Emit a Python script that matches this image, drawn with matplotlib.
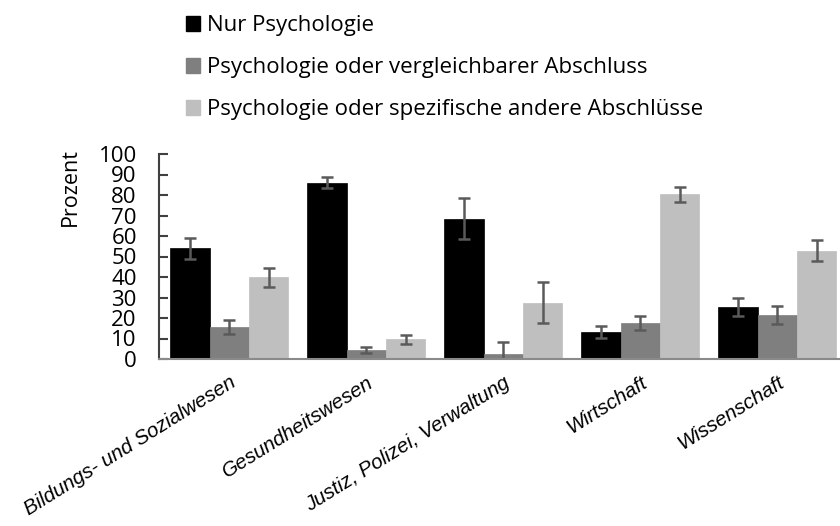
import numpy as np
import matplotlib
matplotlib.use("Agg")
import matplotlib.pyplot as plt
from matplotlib.patches import Patch

# -----------------------------
# Data
# -----------------------------
categories = ["Bildungs- und Sozialwesen", "Gesundheitswesen",
              "Justiz, Polizei, Verwaltung", "Wirtschaft", "Wissenschaft"]
series_names = ["Nur Psychologie",
                "Psychologie oder vergleichbarer Abschluss",
                "Psychologie oder spezifische andere Abschlüsse"]

nur_psych = [54.0, 86.0, 68.4, 13.3, 25.4]
nur_psych_err = [5.0, 2.7, 10.0, 3.0, 4.6]

vergleichbar = [15.7, 4.4, 2.4, 17.6, 21.4]
vergleichbar_err = [3.5, 1.6, 5.7, 3.6, 4.3]

spezifisch = [39.8, 9.6, 27.4, 80.4, 52.9]
spezifisch_err = [4.8, 2.3, 10.0, 3.7, 5.0]

yticks = list(range(0, 101, 10))

# -----------------------------
# Figure
# -----------------------------
W, H = 840, 526
fig = plt.figure(figsize=(W / 100, H / 100), dpi=100)
ax = fig.add_axes([159 / W, 1 - 359 / H, (W - 159) / W, (359 - 154) / H])

colors = ["#000000", "#7f7f7f", "#bfbfbf"]
values = [nur_psych, vergleichbar, spezifisch]
errors = [nur_psych_err, vergleichbar_err, spezifisch_err]

x = np.arange(len(categories))
width = 0.288
for i, (vals, errs, col) in enumerate(zip(values, errors, colors)):
    ax.bar(x + (i - 1) * width, vals, width, color=col, edgecolor=col,
           linewidth=0.5, label=series_names[i],
           yerr=errs, error_kw=dict(ecolor="#5a5a5a", elinewidth=1.8,
                                    capsize=4.5, capthick=1.8))

ax.set_xlim(-0.513, 4.458)
ax.set_ylim(0, 100)
ax.set_yticks(yticks)
ax.set_yticklabels([str(t) for t in yticks], family="Open Sans", fontsize=16)

ax.tick_params(axis="y", direction="in", length=6.5, width=1.5,
               color="#404040", pad=16)
ax.tick_params(axis="x", length=0, pad=10)
ax.set_xticks(x)
ax.set_xticklabels(categories, rotation=32, ha="right", va="top",
                   rotation_mode="anchor", family="Liberation Sans",
                   style="italic", fontsize=14.8)

for s in ["top", "right"]:
    ax.spines[s].set_visible(False)
ax.spines["left"].set_color("#404040")
ax.spines["left"].set_linewidth(1.5)
ax.spines["bottom"].set_color("#8a8a8a")
ax.spines["bottom"].set_linewidth(1.5)

fig.text(70 / W, 1 - 187 / H, "Prozent", rotation=90, ha="center",
         va="center", family="Open Sans", fontsize=15.5)

handles = [Patch(facecolor=c, edgecolor=c) for c in colors]
fig.legend(handles, series_names, loc="upper left",
           bbox_to_anchor=(186 / W, 1 - 15 / H), frameon=False,
           prop=dict(family="Open Sans", size=16),
           handlelength=0.64, handleheight=0.64, handletextpad=0.3,
           labelspacing=0.95, borderpad=0, borderaxespad=0)

fig.savefig("out.png", dpi=100)
